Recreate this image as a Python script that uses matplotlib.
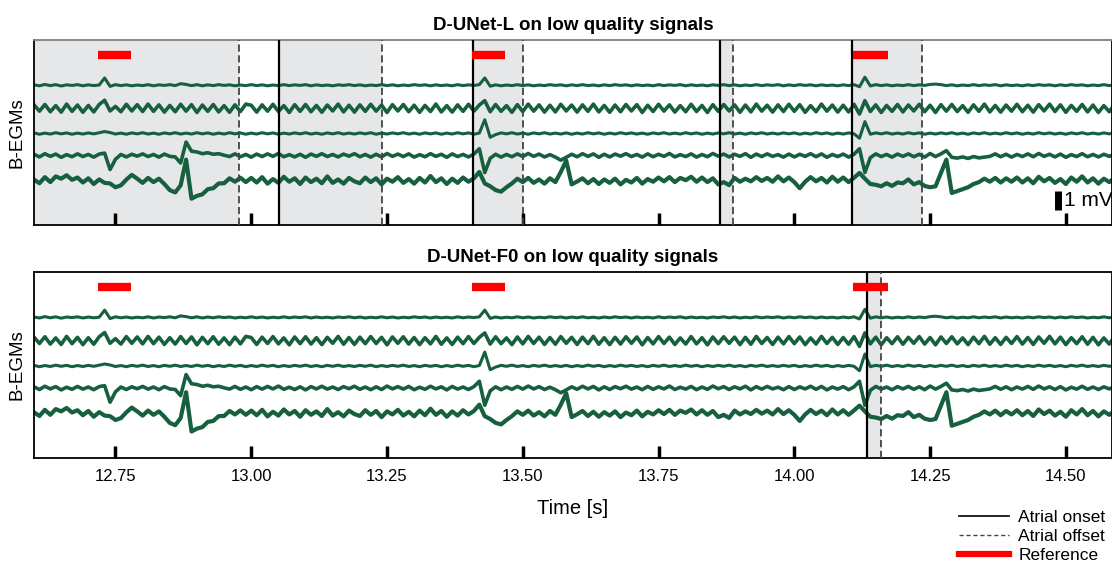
import numpy as np
import matplotlib.pyplot as plt

plt.rcParams['font.family'] = ['Liberation Sans', 'DejaVu Sans']

# sample time: 100 Hz from 12.60 s
t0 = 12.60
dt = 0.01

# B-EGM channels, amplitude in 0.01 mV (top to bottom)
egm1 = [2, -3, 4, -2, 3, -4, 2, -1, 3, -3, 2, -2, 1, 38, -6, 3, -2, 2, -3, 1,
        -2, 3, -3, 2, -1, 3, -2, 8, 4, -2, 3, -3, 2, -2, 3, -1, 2, -3, 1, -2,
        3, -2, 2, -3, 1, -2, 3, -2, 2, -1, 3, -3, 2, -2, 1, -3, 2, -1, 3, -2,
        2, -3, 1, -2, 3, -2, 2, -3, 1, -2, 3, -1, 2, -3, 2, -2, 1, -3, 3, -2,
        2, -1, 3, 38, -5, 2, -3, 1, -2, 3, -2, 2, -3, 1, -2, 3, -1, 2, -3, 2,
        -2, 3, -2, 1, -3, 2, -2, 3, -1, 2, -3, 2, -2, 1, -3, 3, -2, 2, -1, 3,
        -3, 2, -2, 1, -3, 2, -1, 3, -2, 2, -3, 1, -2, 3, -2, 2, -1, 3, -3, 2,
        -2, 3, -1, 2, -3, 2, -2, 1, -3, 2, -2, 3, -8, 42, -4, 3, -2, 2, -3, 1,
        -2, 3, -2, 2, -1, 4, 6, 3, -2, 2, -3, 1, -2, 3, -2, 2, -1, 3, -3, 2,
        -2, 1, -3, 2, -2, 3, -1, 2, -3, 2, -2, 3, -1, 2, -3, 1, -2, 3, -2, 2]
egm2 = [18, -15, 20, -18, 14, -20, 22, -16, 17, -21, 15, -19, 20, 42, -14, 10, -18, 21, -14, 19,
        -17, 22, -16, 18, -20, 15, -18, 21, -15, 19, -22, 17, -16, 20, -19, 14, -21, 18, -17, 22,
        16, -20, 18, -15, 21, -17, 14, -22, 19, -16, 20, -18, 15, -21, 17, -14, 22, -19, 16, -20,
        18, -16, 21, -15, 17, -22, 19, -14, 20, -18, 16, -21, 15, -17, 22, -19, 14, -20, 18, -16,
        21, -15, 17, 40, -18, 20, -16, 14, -21, 19, -17, 22, -15, 18, -20, 16, -19, 21, -14, 17,
        -20, 18, -16, 22, -19, 15, -21, 17, -18, 20, -14, 19, -22, 16, -17, 21, -15, 18, -20, 14,
        -18, 21, -17, 15, -22, 19, -16, 20, -14, 18, -21, 17, -19, 22, -15, 16, -20, 18, -17, 21,
        -16, 19, -21, 14, -18, 22, -15, 17, -20, 16, -19, 21, -30, 40, -17, 18, -22, 15, -16, 20,
        -19, 17, -14, 21, -18, 16, -22, 19, -15, 20, -17, 14, -21, 18, -16, 22, -19, 15, -20, 17,
        -15, 21, -18, 16, -20, 19, -14, 22, -17, 18, -21, 15, -16, 20, -19, 17, -22, 14, -18, 21]
egm3 = [3, -4, 2, -3, 4, -2, 3, -4, 2, -3, 3, -2, 4, 10, 5, -3, 2, -4, 3, -2,
        4, -3, 2, -4, 3, -2, 4, -3, 2, -3, 4, -2, 3, -4, 2, -3, 4, -2, 3, -4,
        2, -3, 4, -2, 3, -4, 2, -3, 3, -2, 4, -3, 2, -4, 3, -2, 4, -3, 2, -3,
        3, -2, 4, -4, 2, -3, 3, -2, 4, -3, 2, -4, 3, -2, 3, -4, 2, -3, 4, -2,
        3, -4, 2, 72, -20, -6, 3, -2, 4, -3, 2, -4, 3, -2, 4, -3, 2, -3, 3, -4,
        2, -3, 4, -2, 3, -4, 2, -3, 4, -2, 3, -3, 2, -4, 3, -2, 4, -3, 2, -3,
        4, -2, 3, -4, 2, -3, 3, -2, 4, -3, 2, -4, 3, -2, 4, -3, 2, -3, 3, -2,
        3, -4, 2, -3, 4, -2, 3, -4, 2, -3, 3, -2, -25, 62, -4, 3, -2, 4, -3, 2,
        -3, 4, -2, 3, -4, 2, -3, 3, -2, 4, -3, 2, -4, 3, -2, 4, -3, 2, -3, 4,
        -2, 3, -4, 2, -3, 4, -2, 3, -3, 2, -4, 3, -2, 4, -3, 2, -3, 3, -2, 4]
egm4 = [6, -8, 9, -5, 7, -10, 4, -7, 8, -6, 5, -9, 7, 12, -74, -20, 5, -8, 6, -4,
        8, -6, 5, -9, 7, -5, -8, -40, 70, 22, 18, 9, 14, 6, 9, 1, -6, 8, -7, 5,
        -9, 7, -6, 8, -5, 10, -7, 4, -8, 6, -10, 7, -5, 9, -6, 5, -8, 7, -4, 9,
        -7, 5, -9, 6, -8, 10, -5, 7, -6, 8, -9, 4, -7, 9, -5, 6, -10, 8, -6, 5,
        -8, 7, 35, -90, -15, 6, -9, 5, -7, 8, -6, 10, -5, 7, -8, 4, -9, -25, -10, 6,
        -7, 9, -5, 8, -10, 6, -8, 7, -4, 9, -6, 5, -9, 8, -7, 6, -5, 10, -8, 4,
        -6, 8, -9, 5, -7, 10, -4, 7, -8, 6, -5, 9, -10, 7, -6, 8, -5, 4, -9, 7,
        -8, 6, -5, 9, -7, 8, -10, 5, -6, 7, -9, 6, 35, -90, -12, 8, -6, 5, -9, 7,
        -5, 8, -7, 6, -9, 10, -6, 8, 25, -10, -14, -8, -16, -6, -13, -9, -5, 8, -7, 6,
        -9, 5, -6, 8, -7, 10, -5, 6, -8, 7, -10, 4, -6, 9, -7, 5, -8, 6, -5, 8]
egm5 = [5, -14, 18, -8, 22, 10, 28, 4, 16, -10, 12, -18, 6, -12, -15, -35, -25, 5, 30, 10,
        -12, 14, -8, 10, -18, -50, -62, -25, 110, -95, -80, -72, -45, -40, -15, -14, 12, -6, 15, -8,
        14, -10, 18, -16, 8, -12, 20, -6, 12, -18, 16, -8, 10, -14, 22, -12, 6, -16, 14, -4,
        -14, 16, -8, 12, -20, 10, -6, 18, -12, 8, -16, 14, -10, 24, -8, 12, -18, 10, -12, 16,
        -6, 12, 45, -15, -30, -50, -58, -35, -15, 10, -8, 14, -12, 6, -16, 12, -8, 45, 105, -20,
        -5, 12, -14, 8, -18, 6, -12, 10, -20, 4, -10, 14, -16, 8, -6, 16, -4, 18, -8, 14,
        2, 20, -6, 16, -8, 12, -20, -8, -24, 14, -6, 10, -4, 18, -2, 14, -6, 22, -4, 16,
        -8, -40, -6, 18, -4, 14, -10, 20, -6, 16, -8, 15, 40, 10, -18, -22, -30, -14, -28, -10,
        -14, 6, -20, -8, -28, -35, -30, 40, 110, -65, -55, -45, -35, -18, -8, 10, -6, 14, -10, 12,
        -6, 16, -10, 12, -14, 20, -4, 14, -12, 8, -18, 16, -6, 22, -10, 12, -16, 10, -8, 14]
channels = [egm1, egm2, egm3, egm4, egm5]
baselines = [7.33, 6.12, 4.80, 3.65, 2.33]  # mV
widths = [2.2, 2.6, 2.2, 2.6, 3.0]

# atrial activity annotations [s]
onsets_L = [12.55, 13.052, 13.408, 13.863, 14.106]
offsets_L = [12.977, 13.240, 13.500, 13.887, 14.235]
onsets_F0 = [14.133]
offsets_F0 = [14.159]
ref_start = [12.717, 13.406, 14.108]
ref_end = [12.778, 13.467, 14.172]

time = t0 + dt * np.arange(len(egm1))

fig = plt.figure(figsize=(11.12, 5.62), dpi=100)
ax1 = fig.add_axes([0.0306, 0.5996, 0.9694, 0.3292])
ax2 = fig.add_axes([0.0306, 0.1851, 0.9694, 0.3310])

green = '#16603f'
shade = '#e6e7e9'

panels = [(ax1, onsets_L, offsets_L, 'D-UNet-L on low quality signals'),
          (ax2, onsets_F0, offsets_F0, 'D-UNet-F0 on low quality signals')]

for ax, ons, offs, title in panels:
    for on, off in zip(ons, offs):
        ax.axvspan(on, off, color=shade, lw=0, zorder=0)
    for ch, base, w in zip(channels, baselines, widths):
        ax.plot(time, base + np.array(ch) / 100, color=green, lw=w, zorder=2)
    for on in ons:
        ax.axvline(on, color='black', lw=1.6, zorder=3)
    for off in offs:
        ax.axvline(off, color='#444444', lw=1.3, ls=(0, (4, 2)), zorder=3)
    for s, e in zip(ref_start, ref_end):
        ax.plot([s, e], [8.9, 8.9], color='red', lw=6, solid_capstyle='butt', zorder=4)

    ax.set_xlim(12.6, 14.585)
    ax.set_ylim(0, 9.7)
    ax.set_yticks([])
    ax.set_xticks(np.arange(12.75, 14.51, 0.25))
    ax.tick_params(axis='x', direction='in', length=9, width=2.5, labelsize=12, pad=8)
    for sp in ax.spines.values():
        sp.set_linewidth(1.3)
    ax.set_ylabel('B-EGMs', fontsize=13.5, labelpad=6)
    ax.set_title(title, fontsize=13.5, fontweight='bold', pad=7)

ax1.spines['top'].set_color('#808080')
ax1.tick_params(labelbottom=False)
ax2.xaxis.set_major_formatter(plt.FormatStrFormatter('%.2f'))
ax2.set_xlabel('Time [s]', fontsize=14.5, labelpad=11)

# 1 mV scale bar
ax1.plot([14.486, 14.486], [0.8, 1.8], color='black', lw=5, solid_capstyle='butt', zorder=4)
ax1.text(14.497, 1.28, '1 mV', fontsize=15, va='center', ha='left')

h_on = plt.Line2D([], [], color='black', lw=1.2)
h_off = plt.Line2D([], [], color='#444444', lw=1.0, ls=(0, (3, 2)))
h_ref = plt.Line2D([], [], color='red', lw=4.5)
fig.legend([h_on, h_off, h_ref], ['Atrial onset', 'Atrial offset', 'Reference'],
           loc='lower right', bbox_to_anchor=(1.008, -0.03), frameon=False,
           fontsize=12.5, handlelength=2.9, handletextpad=0.5, labelspacing=0.22)

fig.savefig('out.png', dpi=100)
